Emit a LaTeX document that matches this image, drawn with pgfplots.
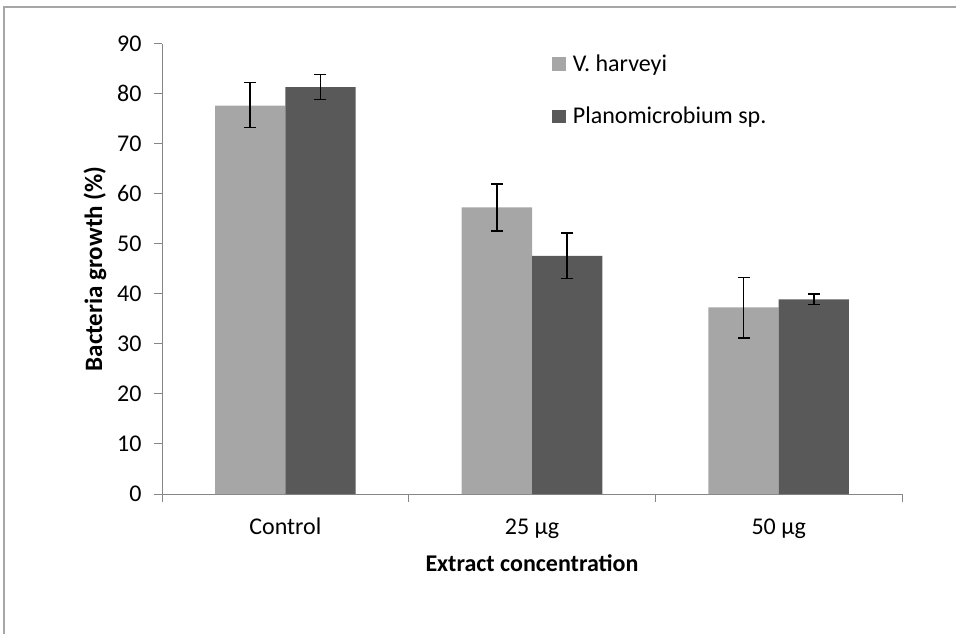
\documentclass[border=0pt]{standalone}
\usepackage{pgfplots}
\pgfplotsset{compat=1.18}
\usepackage{pgfplotstable}
\usepackage{fontspec}
\setmainfont{Carlito}
\definecolor{lightbar}{HTML}{A6A6A6}
\definecolor{darkbar}{HTML}{595959}
\definecolor{axisgray}{HTML}{868686}
\definecolor{framegray}{HTML}{A6A6A6}
\pgfplotstableread{
x y ep em
0 77.6 4.7 4.4
1 57.3 4.7 4.7
2 37.3 6.0 6.1
}\harveyi
\pgfplotstableread{
x y ep em
0 81.3 2.6 2.5
1 47.6 4.6 4.5
2 38.9 1.1 1.0
}\plano
\newcommand{\fs}{\fontsize{24}{28}\selectfont}
\newcommand{\fsy}{\fontsize{25}{29}\selectfont}
\begin{document}
\begin{tikzpicture}[x=1pt,y=1pt]
\path[use as bounding box] (0,0) rectangle (956,633);
\draw[framegray, line width=1.5pt] (4,-5) -- (4,626) -- (962,626);
\begin{axis}[
  at={(162pt,139pt)}, anchor=south west,
  width=740pt, height=450.3pt, scale only axis,
  ybar=0pt, bar width=0.285,
  xmin=-0.5, xmax=2.5, ymin=0, ymax=90,
  axis x line*=bottom, axis y line*=left,
  axis line style={axisgray, line width=1pt},
  tick style={axisgray, line width=1pt},
  tick align=outside,
  major tick length=8pt,
  xtick={-0.5,0.5,1.5,2.5}, xticklabels={},
  extra x ticks={0,1,2},
  extra x tick labels={Control,25 µg,50 µg},
  extra x tick style={major tick length=0pt, tick style={draw=none}},
  ytick={0,10,...,90},
  /pgf/number format/assume math mode=true,
  ticklabel style={font=\fs, text=black},
  xticklabel style={anchor=base, yshift=-40pt},
  yticklabel style={anchor=east, xshift=-9pt},
  every axis x label/.style={at={(axis description cs:0.5,-0.1532)}, anchor=center, font=\fs\bfseries},
  every axis y label/.style={at={(axis description cs:-0.0905,0.5)}, rotate=90, anchor=center, font=\fsy\bfseries},
  xlabel={Extract concentration},
  ylabel={Bacteria growth (\%)},
  legend style={at={(axis description cs:0.5266,0.98)}, anchor=north west, draw=none, fill=none,
    inner sep=0pt, font=\fs, row sep=30pt, cells={anchor=west},
    /tikz/every odd column/.append style={column sep=5pt}},
  legend image code/.code={\fill[#1] (0pt,-6.5pt) rectangle (14pt,6.5pt);},
  error bars/error bar style={black, line width=1.4pt},
  error bars/error mark options={rotate=90, mark size=6pt, line width=1.4pt, black},
]
\addplot[fill=lightbar, draw=none,
  error bars/.cd, y dir=both, y explicit]
  table[x=x, y=y, y error plus=ep, y error minus=em]{\harveyi};
\addlegendentry{V. harveyi}
\addplot[fill=darkbar, draw=none,
  error bars/.cd, y dir=both, y explicit]
  table[x=x, y=y, y error plus=ep, y error minus=em]{\plano};
\addlegendentry{Planomicrobium sp.}
\end{axis}
\end{tikzpicture}
\end{document}
